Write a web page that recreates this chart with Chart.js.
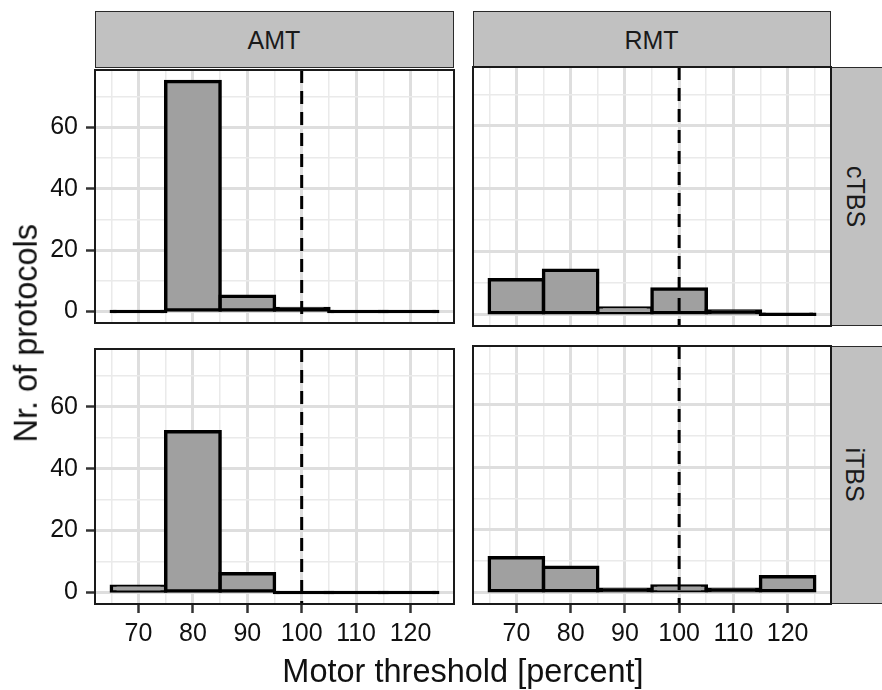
<!DOCTYPE html>
<html>
<head>
<meta charset="utf-8">
<script src="https://cdn.jsdelivr.net/npm/chart.js@4"></script>
<style>
  body { margin: 0; background: #fff; }
  #fig { position: relative; width: 882px; height: 690px; overflow: hidden; font-family: 'Liberation Sans', Arial, sans-serif; color: #111; }
  canvas { position: absolute; }
  .strip { position: absolute; background: #c1c1c1; border: 1.5px solid #2a2a2a; box-sizing: border-box; overflow: hidden; }
  .strip span { position: absolute; font-size: 25px; line-height: 25px; height: 25px; text-align: center; white-space: nowrap; color: #1a1a1a; }
  .title { position: absolute; font-size: 32.5px; line-height: 32.5px; height: 32.5px; text-align: center; white-space: nowrap; }
</style>
</head>
<body>
<div id="fig">
  <div class="strip" style="left:95px; top:11px; width:359px; height:57px;"><span style="left:0; width:356px; top:16px;">AMT</span></div>
  <div class="strip" style="left:473px; top:11px; width:358px; height:57px;"><span style="left:0; width:355px; top:16px;">RMT</span></div>
  <div class="strip" style="left:830px; top:67px; width:58px; height:259px;"><span style="left:-104px; top:115.5px; width:256px; transform:rotate(90deg);">cTBS</span></div>
  <div class="strip" style="left:830px; top:346px; width:58px; height:258px;"><span style="left:-104px; top:115px; width:255px; transform:rotate(90deg);">iTBS</span></div>

  <canvas id="amtCtbs" width="474" height="299" style="left:0; top:47px;"></canvas>
  <canvas id="rmtCtbs" width="398" height="299" style="left:453px; top:47px;"></canvas>
  <canvas id="amtItbs" width="474" height="353" style="left:0; top:326px;"></canvas>
  <canvas id="rmtItbs" width="398" height="353" style="left:453px; top:326px;"></canvas>

  <div class="title" style="left:-174px; top:317px; width:400px; transform:rotate(-90deg);">Nr. of protocols</div>
  <div class="title" style="left:163px; top:655px; width:600px;">Motor threshold [percent]</div>
</div>
<script>
// histogram bins (centres, width 10) and counts per panel
const bins = [70, 80, 90, 100, 110, 120];
const amtCtbs = [0, 75, 5, 1, 0, 0];
const rmtCtbs = [11, 14, 2, 8, 1, 0];
const amtItbs = [2, 52, 6, 0, 0, 0];
const rmtItbs = [11, 8, 1, 2, 1, 5];

const xBreaks = [70, 80, 90, 100, 110, 120];
const yBreaks = [0, 20, 40, 60];
const xLimits = [62, 128];
const yLimits = [-3.75, 78.75];
const refLine = 100;

Chart.defaults.font.family = "'Liberation Sans', Arial, sans-serif";

const panelBorder = {
    id: 'panelBorder',
    afterDraw(chart) {
        const { ctx, chartArea: a } = chart;
        ctx.save();
        ctx.strokeStyle = '#1a1a1a';
        ctx.lineWidth = 2;
        ctx.strokeRect(a.left, a.top, a.right - a.left, a.bottom - a.top);
        ctx.restore();
    }
};

function gridOpts(breaks, showTicks) {
    const major = c => c.tick && breaks.includes(c.tick.value);
    return {
        offset: false,
        color: c => major(c) ? '#dedede' : '#eaeaea',
        lineWidth: c => major(c) ? 3 : 1.5,
        drawTicks: showTicks,
        tickLength: 9,
        tickWidth: 2.5,
        tickColor: c => major(c) ? '#333' : 'rgba(0,0,0,0)'
    };
}

function makePanel(id, counts, showX, showY) {
    const ctx = document.getElementById(id);
    new Chart(ctx, {
        type: 'bar',
        data: {
            datasets: [{
                type: 'line',
                data: [{ x: refLine, y: yLimits[1] }, { x: refLine, y: yLimits[0] }],
                borderColor: '#000',
                borderWidth: 3,
                borderDash: [13, 8],
                pointRadius: 0,
                fill: false,
                order: 1
            }, {
                type: 'bar',
                data: bins.map((b, i) => ({ x: b, y: counts[i] })),
                backgroundColor: c => (c.raw && c.raw.y <= 1) ? '#000' : '#a0a0a0',
                borderColor: '#000',
                borderWidth: 3.5,
                borderSkipped: false,
                inflateAmount: 1.75,
                minBarLength: 0.01,   // empty bins still show as a flat line
                barPercentage: 2,     // ruler uses the 5-unit tick spacing, bins are 10 wide
                categoryPercentage: 1,
                order: 2
            }]
        },
        options: {
            responsive: false,
            animation: false,
            layout: { padding: 20 },
            plugins: {
                legend: { display: false },
                tooltip: { enabled: false }
            },
            scales: {
                x: {
                    type: 'linear',
                    min: xLimits[0],
                    max: xLimits[1],
                    offset: false,
                    afterFit: s => { s.height = showX ? 55 : 0; },
                    grid: gridOpts(xBreaks, showX),
                    border: { display: false },
                    ticks: {
                        display: showX,
                        stepSize: 5,
                        includeBounds: false,
                        autoSkip: false,
                        maxRotation: 0,
                        padding: 6,
                        color: '#111',
                        font: { size: 25 },
                        callback: v => xBreaks.includes(v) ? String(v) : ''
                    }
                },
                y: {
                    min: yLimits[0],
                    max: yLimits[1],
                    afterFit: s => { s.width = showY ? 75 : 0; },
                    grid: gridOpts(yBreaks, showY),
                    border: { display: false },
                    ticks: {
                        display: showY,
                        stepSize: 10,
                        includeBounds: false,
                        autoSkip: false,
                        padding: 8,
                        color: '#111',
                        font: { size: 25 },
                        callback: v => yBreaks.includes(v) ? String(v) : ''
                    }
                }
            }
        },
        plugins: [panelBorder]
    });
}

makePanel('amtCtbs', amtCtbs, false, true);
makePanel('rmtCtbs', rmtCtbs, false, false);
makePanel('amtItbs', amtItbs, true, true);
makePanel('rmtItbs', rmtItbs, true, false);
</script>
</body>
</html>
